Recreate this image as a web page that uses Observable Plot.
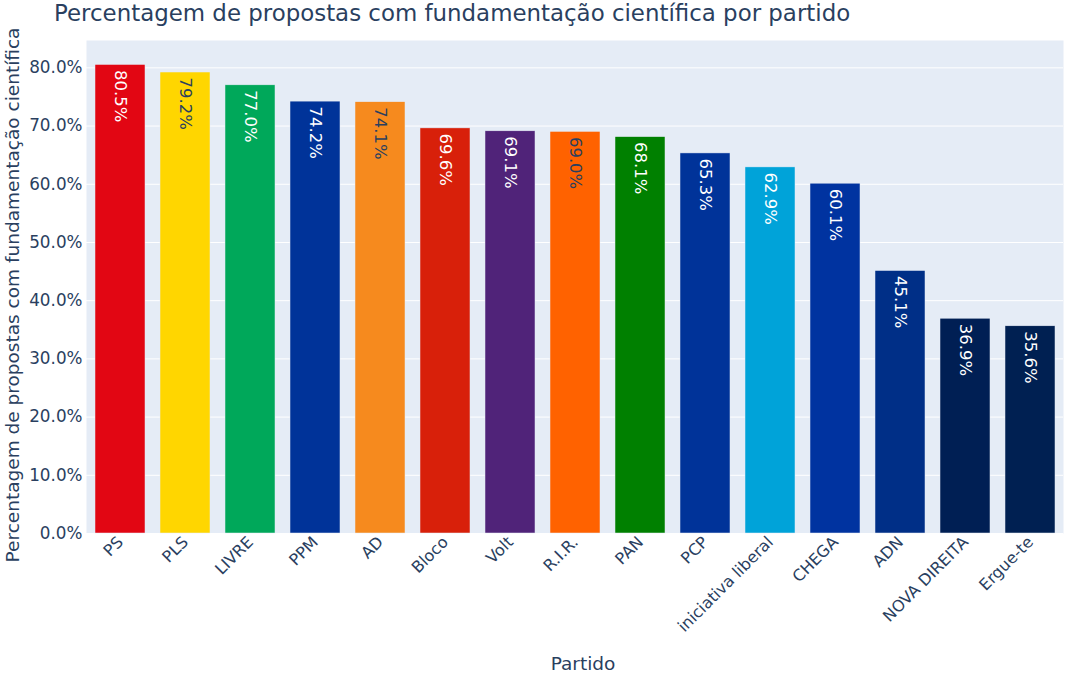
<!DOCTYPE html>
<html>
<head>
<meta charset="utf-8">
<script src="https://cdn.jsdelivr.net/npm/d3@7"></script>
<script src="https://cdn.jsdelivr.net/npm/@observablehq/plot@0.6"></script>
<style>
  body { margin: 0; background: #fff; font-family: "DejaVu Sans", Verdana, sans-serif; }
  #title { height: 40px; line-height: 26px; padding-left: 54px; font-size: 22.9px; color: #2a3f5f; white-space: nowrap; }
  #chart svg { display: block; overflow: visible; }
</style>
</head>
<body>
<div id="title">Percentagem de propostas com fundamentação científica por partido</div>
<div id="chart"></div>
<script>
const parties = ["PS","PLS","LIVRE","PPM","AD","Bloco","Volt","R.I.R.","PAN","PCP","iniciativa liberal","CHEGA","ADN","NOVA DIREITA","Ergue-te"];
const values = [80.5, 79.2, 77.0, 74.2, 74.1, 69.6, 69.1, 69.0, 68.1, 65.3, 62.9, 60.1, 45.1, 36.9, 35.6];
const colors = ["#E20613","#FFD600","#00A85A","#003399","#F68A1E","#D8200A","#502379","#FF6200","#008000","#003399","#00A3D9","#0033A0","#002F87","#001F54","#002052"];
const yTicks = [0, 10, 20, 30, 40, 50, 60, 70, 80];

const isLight = c => { const r = d3.rgb(c); return (r.r * 299 + r.g * 587 + r.b * 114) / 1000 >= 128; };
const data = parties.map((p, i) => ({party: p, value: values[i], color: colors[i], text: isLight(colors[i]) ? "#2a3f5f" : "#ffffff"}));

const chart = Plot.plot({
  width: 1080,
  height: 635,
  marginTop: 0,
  marginLeft: 86,
  marginRight: 17,
  marginBottom: 142,
  style: {fontFamily: "'DejaVu Sans', Verdana, sans-serif", color: "#2a3f5f", background: "#fff", overflow: "visible"},
  x: {domain: parties, paddingInner: 0.232, paddingOuter: 0.116, label: null},
  y: {domain: [0, 84.7], label: null},
  marks: [
    Plot.frame({fill: "#E5ECF6", stroke: null}),
    Plot.gridY(yTicks, {stroke: "#fff", strokeOpacity: 1, strokeWidth: 1}),
    Plot.barY(data, {x: "party", y: "value", fill: d => d.color, stroke: "#E5ECF6", strokeWidth: 0.5}),
    Plot.text(data, {x: "party", y: "value", text: d => d.value.toFixed(1) + "%", rotate: 90, textAnchor: "start", lineAnchor: "middle", dy: 5, fill: d => d.text, fontSize: 16.5}),
    Plot.axisX({tickSize: 0, tickRotate: -45, tickPadding: 6, fontSize: 16, label: null, textAnchor: "end"}),
    Plot.axisY(yTicks, {tickSize: 0, tickPadding: 4, fontSize: 16.8, tickFormat: d => d.toFixed(1) + "%", label: null})
  ]
});

const svg = d3.select(chart);
svg.append("text").attr("x", 583).attr("y", 630).attr("text-anchor", "middle")
  .attr("font-size", 18.5).attr("fill", "#2a3f5f").text("Partido");
svg.append("text").attr("transform", "translate(19, 255) rotate(-90)").attr("text-anchor", "middle")
  .attr("font-size", 18.5).attr("fill", "#2a3f5f").text("Percentagem de propostas com fundamentação científica");
document.getElementById("chart").appendChild(chart);
</script>
</body>
</html>
